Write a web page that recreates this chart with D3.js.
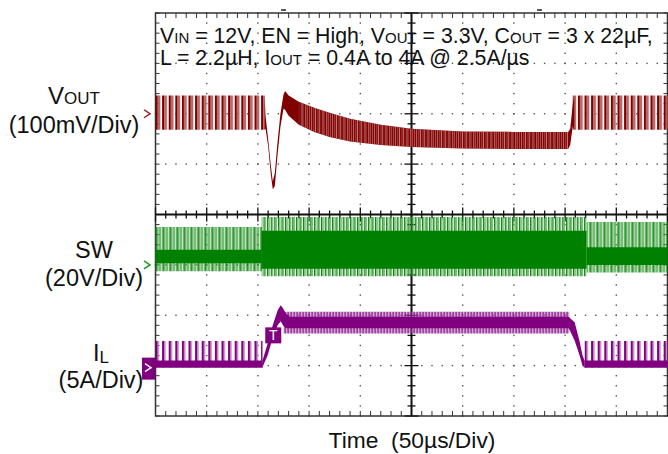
<!DOCTYPE html>
<html>
<head>
<meta charset="utf-8">
<script src="https://cdn.jsdelivr.net/npm/d3@7"></script>
<style>
  body { margin: 0; background: #fff; }
  svg { display: block; }
  text { font-family: "Liberation Sans", Arial, sans-serif; fill: #111; }
</style>
</head>
<body>
<svg id="scope" width="668" height="454"></svg>
<script>
// ---- data (time in us, 500us across the screen) ----
// VOUT, mV away from the 3.3V level (100mV/div)
var voutPreT = [0, 106.8], voutPreHi = [36, 36], voutPreLo = [-32, -32];
var voutStepT  = [106.5, 107.5, 110, 112.5, 114.5, 116.5, 119, 122, 125, 126.5, 130, 140, 155, 170, 190, 220, 250, 300, 350, 403, 405, 407.5, 409];
var voutStepHi = [36, -5, -50, -100, -134, -118, -60, 0, 38, 45, 36, 24, 12, 2, -10, -22, -30, -35, -36, -36, -30, 20, 36];
var voutStepLo = [-32, -30, -64, -118, -150, -144, -86, -26, 10, 8, -4, -22, -36, -46, -55, -62, -66, -69, -70, -70, -62, -25, -32];
var voutPostT = [407.5, 500], voutPostHi = [36, 36], voutPostLo = [-32, -32];

// SW node, volts (20V/div): outer = spike envelope, core = dense part
var swPreT = [0, 104], swPreOutHi = [15, 15], swPreOutLo = [-2.5, -2.5], swPreCoreHi = [6, 6], swPreCoreLo = [0.6, 0.6];
var swLoadT = [103.5, 421], swLoadOutHi = [19, 19], swLoadOutLo = [-4.5, -4.5], swLoadCoreHi = [13.5, 13.5], swLoadCoreLo = [-1.5, -1.5];
var swPostT = [421, 500], swPostOutHi = [17, 17], swPostOutLo = [-3, -3], swPostCoreHi = [7, 7], swPostCoreLo = [0, 0];

// inductor current, amps (5A/div)
var ilPreT = [0, 104.5], ilPreHi = [2.45, 2.45], ilPreLo = [-0.15, -0.15];
var ilBaseHi = [0.5, 0.5], ilBaseLo = [-0.2, -0.2];
var ilStepT  = [104.5, 106, 109.5, 114.5, 119.3, 122.3, 124.5, 127.2, 131, 403.5, 405, 409.3, 414.2, 417, 419];
var ilStepHi = [0.5, 1.0, 2.2, 4.0, 5.5, 6.0, 5.7, 5.2, 4.85, 4.85, 4.7, 4.3, 2.4, 1.0, 0.5];
var ilStepLo = [-0.2, 0.2, 1.0, 2.8, 4.0, 4.4, 4.0, 3.7, 3.7, 3.7, 3.4, 2.5, 1.0, 0.0, -0.2];
var ilLoadT = [125, 404], ilLoadHi = [5.35, 5.35], ilLoadLo = [3.2, 3.2];
var ilPostT = [419, 500], ilPostHi = [2.45, 2.45], ilPostLo = [-0.15, -0.15];

var trigT = 115;     // trigger marker position, us
var cursorT = [125, 375];

// ---- scales ----
var svg = d3.select('#scope');
var x = d3.scaleLinear().domain([0, 500]).range([155.5, 667.5]);
var yDiv = d3.scaleLinear().domain([-4, 4]).range([416, 13]);
// each channel is offset on the screen: VOUT +2 div, SW -1 div, IL -3 div
var yVout = d3.scaleLinear().domain([-600, 200]).range([416, 13]);
var ySw = d3.scaleLinear().domain([-60, 100]).range([416, 13]);
var yIl = d3.scaleLinear().domain([-5, 35]).range([416, 13]);

var cRed = '#800000', cGreen = '#008000', cPurple = '#800080';

// stripe patterns give the switching hash look
var defs = svg.append('defs');
function stripes(id, w, list) {
  var p = defs.append('pattern').attr('id', id).attr('patternUnits', 'userSpaceOnUse')
    .attr('x', 155.5).attr('y', 0).attr('width', w).attr('height', 454);
  list.forEach(function (s) {
    p.append('rect').attr('x', s[0]).attr('y', 0).attr('width', s[1]).attr('height', 454).attr('fill', s[2]);
  });
}
stripes('voutRip', 6.6, [[0, 2.4, cRed], [2.4, 2.5, '#b86a6a']]);
stripes('voutHash', 4.2, [[0, 0.9, '#c07878'], [2.6, 0.5, '#d39a9a']]);
stripes('swRip', 7, [[0, 1.6, cGreen], [2.2, 1.2, '#5fae5f'], [4.2, 1.0, cGreen], [5.7, 0.7, '#8cc68c']]);
stripes('swHash', 3.6, [[0, 1.3, cGreen], [1.6, 1.0, '#6cb86c']]);
stripes('ilRip', 6.6, [[0, 1.9, cPurple], [1.9, 1.6, '#c080c0']]);
stripes('ilHash', 3, [[0, 1.5, cPurple], [1.7, 0.8, '#c58cc5']]);

// ---- graticule ----
var grid = svg.append('g');
var majX = d3.range(0, 501, 50), minX = d3.range(0, 501, 10);
var majY = d3.range(-4, 4.01, 1), minY = d3.range(-4, 4.01, 0.2);

// dotted grid lines
majX.forEach(function (t) {
  if (t === 0 || t === 250 || t === 500) return;
  minY.forEach(function (d) {
    grid.append('rect').attr('x', x(t) - 0.7).attr('y', yDiv(d) - 0.7).attr('width', 1.4).attr('height', 1.4).attr('fill', '#555');
  });
});
majY.forEach(function (d) {
  if (d === -4 || d === 0 || d === 4) return;
  minX.forEach(function (t) {
    grid.append('rect').attr('x', x(t) - 0.7).attr('y', yDiv(d) - 0.7).attr('width', 1.4).attr('height', 1.4).attr('fill', '#555');
  });
});

// frame
grid.append('rect').attr('x', x(0)).attr('y', yDiv(4)).attr('width', x(500) - x(0)).attr('height', yDiv(-4) - yDiv(4))
  .attr('fill', 'none').attr('stroke', '#333').attr('stroke-width', 1.5);

// border ticks pointing inward
minX.forEach(function (t) {
  grid.append('line').attr('x1', x(t)).attr('x2', x(t)).attr('y1', yDiv(4)).attr('y2', yDiv(4) + 5).attr('stroke', '#333');
  grid.append('line').attr('x1', x(t)).attr('x2', x(t)).attr('y1', yDiv(-4)).attr('y2', yDiv(-4) - 5).attr('stroke', '#333');
});
minY.forEach(function (d) {
  grid.append('line').attr('x1', x(0)).attr('x2', x(0) + 4).attr('y1', yDiv(d)).attr('y2', yDiv(d)).attr('stroke', '#333');
  grid.append('line').attr('x1', x(500)).attr('x2', x(500) - 4).attr('y1', yDiv(d)).attr('y2', yDiv(d)).attr('stroke', '#333');
});

// centre cross with ticks
grid.append('line').attr('x1', x(0)).attr('x2', x(500)).attr('y1', yDiv(0)).attr('y2', yDiv(0)).attr('stroke', '#111').attr('stroke-width', 2);
grid.append('line').attr('x1', x(250)).attr('x2', x(250)).attr('y1', yDiv(4)).attr('y2', yDiv(-4)).attr('stroke', '#111').attr('stroke-width', 2);
minX.forEach(function (t) {
  var h = (t % 50 === 0) ? 7 : 4;
  grid.append('line').attr('x1', x(t)).attr('x2', x(t)).attr('y1', yDiv(0) - h).attr('y2', yDiv(0) + h).attr('stroke', '#111').attr('stroke-width', 1.3);
});
minY.forEach(function (d) {
  var h = (Math.abs(d - Math.round(d)) < 0.01) ? 7 : 4;
  grid.append('line').attr('x1', x(250) - h).attr('x2', x(250) + h).attr('y1', yDiv(d)).attr('y2', yDiv(d)).attr('stroke', '#111').attr('stroke-width', 1.3);
});

// cursor marks above the frame
cursorT.forEach(function (t) {
  svg.append('line').attr('x1', x(t) - 2.5).attr('x2', x(t) + 2.5).attr('y1', 10).attr('y2', 10).attr('stroke', '#222').attr('stroke-width', 1.5);
});

// ---- traces ----
var traces = svg.append('g');
function band(t, hi, lo, scale, fill) {
  var rows = t.map(function (v, i) { return { t: v, hi: hi[i], lo: lo[i] }; });
  var area = d3.area().x(function (d) { return x(d.t); })
    .y0(function (d) { return scale(d.lo); }).y1(function (d) { return scale(d.hi); });
  traces.append('path').datum(rows).attr('d', area).attr('fill', fill);
}
// keep only the points of a band inside a time window
function part(t, arr, t0, t1) {
  return arr.filter(function (v, i) { return t[i] >= t0 && t[i] <= t1; });
}

band(voutPreT, voutPreHi, voutPreLo, yVout, 'url(#voutRip)');
band(voutPostT, voutPostHi, voutPostLo, yVout, 'url(#voutRip)');
band(voutStepT, voutStepHi, voutStepLo, yVout, cRed);
band(part(voutStepT, voutStepT, 135, 404), part(voutStepT, voutStepHi, 135, 404), part(voutStepT, voutStepLo, 135, 404), yVout, 'url(#voutHash)');

band(swPreT, swPreOutHi, swPreOutLo, ySw, 'url(#swRip)');
band(swPreT, swPreCoreHi, swPreCoreLo, ySw, cGreen);
band(swLoadT, swLoadOutHi, swLoadOutLo, ySw, 'url(#swHash)');
band(swLoadT, swLoadCoreHi, swLoadCoreLo, ySw, cGreen);
band(swPostT, swPostOutHi, swPostOutLo, ySw, 'url(#swRip)');
band(swPostT, swPostCoreHi, swPostCoreLo, ySw, cGreen);

band(ilPreT, ilPreHi, ilPreLo, yIl, 'url(#ilRip)');
band(ilPreT, ilBaseHi, ilBaseLo, yIl, cPurple);
band(ilPostT, ilPostHi, ilPostLo, yIl, 'url(#ilRip)');
band(ilPostT, ilBaseHi, ilBaseLo, yIl, cPurple);
band(ilLoadT, ilLoadHi, ilLoadLo, yIl, 'url(#ilHash)');
band(ilStepT, ilStepHi, ilStepLo, yIl, cPurple);

// trigger box
var tg = svg.append('g');
tg.append('rect').attr('x', x(trigT) - 8).attr('y', yIl(3.5) - 3).attr('width', 16).attr('height', 16).attr('fill', cPurple);
tg.append('text').attr('x', x(trigT)).attr('y', yIl(3.5) + 10).attr('text-anchor', 'middle')
  .style('fill', '#fff').style('font-size', '14px').text('T');

// channel ground markers
function chevron(yy, color) {
  svg.append('path').attr('d', 'M144,' + (yy - 4) + 'L150,' + yy + 'L144,' + (yy + 4))
    .attr('fill', 'none').attr('stroke', color).attr('stroke-width', 1.5);
}
chevron(yVout(0), '#a01818');
chevron(ySw(0), '#1a9a1a');
svg.append('rect').attr('x', 142).attr('y', yIl(0) - 8).attr('width', 13).attr('height', 22).attr('fill', cPurple);
svg.append('path').attr('d', 'M145,' + (yIl(0) - 2) + 'L151,' + (yIl(0) + 2) + 'L145,' + (yIl(0) + 6))
  .attr('fill', 'none').attr('stroke', '#fff').attr('stroke-width', 1.5);

// ---- text ----
function label(xx, yy, parts, size, anchor) {
  var t = svg.append('text').attr('x', xx).attr('y', yy).attr('text-anchor', anchor || 'start').style('font-size', size + 'px');
  parts.forEach(function (p) {
    var s = t.append('tspan').text(p[0]);
    if (p[1]) s.style('font-size', p[1] + 'px');
    if (p[2]) s.attr('dy', p[2]);
  });
  return t;
}

label(160, 43, [['V'], ['IN', 15], [' = 12V, EN = High, V'], ['OUT', 15], [' = 3.3V, C'], ['OUT', 15], [' = 3 x 22\u00b5F,']], 21.3);
label(160, 65, [['L = 2.2\u00b5H, I'], ['OUT', 15], [' = 0.4A to 4A @ 2.5A/\u00b5s']], 21.3);

label(74, 104, [['V'], ['OUT', 17]], 24, 'middle');
label(74, 133, [['(100mV/Div)']], 23.5, 'middle');
label(94, 258, [['SW']], 23.5, 'middle');
label(94, 286, [['(20V/Div)']], 23.5, 'middle');
label(101, 361, [['I'], ['L', 17, 2]], 23.5, 'middle');
label(101, 388, [['(5A/Div)']], 23.5, 'middle');

label(412, 448, [['Time\u00a0 (50\u00b5s/Div)']], 22.8, 'middle');
</script>
</body>
</html>
